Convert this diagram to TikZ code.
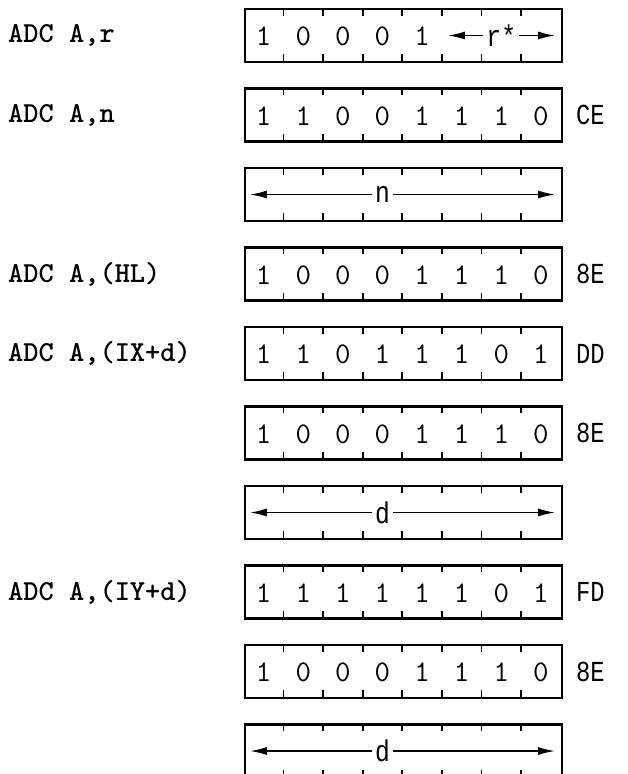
\documentclass[tikz,border=0pt]{standalone}
\usepackage{fontspec}
\usetikzlibrary{arrows.meta,calc}
\newfontfamily\sansfam{Liberation Mono}[FakeStretch=0.82]
\newcommand{\bitfont}{\ttfamily\fontsize{30}{30}\selectfont}
\newcommand{\hexfont}{\sansfam\fontsize{29}{29}\selectfont}
\newcommand{\fldfont}{\sansfam\fontsize{30}{30}\selectfont}
\newcommand{\mnemfont}{\ttfamily\bfseries\fontsize{29}{29}\selectfont}

\begin{document}
\begin{tikzpicture}[x=1pt, y=-1pt,
  byte/.style={draw, line width=2.3pt, minimum width=317pt, minimum height=53pt, inner sep=0pt},
  notch/.style={line width=1.7pt},
  bit/.style={font=\bitfont, inner sep=0pt},
  mnem/.style={font=\mnemfont, anchor=west, inner sep=0pt},
  hex/.style={font=\hexfont, anchor=west, inner sep=0pt},
  fld/.style={-{Latex[length=17pt, width=8pt]}, line width=1.7pt},
  fldlbl/.style={font=\fldfont, inner sep=3pt},
]
  \useasboundingbox (0,0) rectangle (628,774);

  % Byte boxes, notched between the bit cells
  \foreach \i in {1,...,10} {
    \node[byte] (box\i) at (403.5,{35.5+79.5*(\i-1)}) {};
    \foreach \k in {1,...,7} {
      \draw[notch] ($(box\i.north west)+(39.6*\k,0)$) -- ++(0,8);
      \draw[notch] ($(box\i.south west)+(39.6*\k,0)$) -- ++(0,-9);
    }
  }

  % Mnemonics on the left
  \foreach \i/\t in {1/{ADC A,r}, 2/{ADC A,n}, 4/{ADC A,(HL)},
      5/{ADC A,(IX+d)}, 8/{ADC A,(IY+d)}}
    \node[mnem] (op\i) at (8,0 |- box\i) {\t};

  % Hex codes on the right
  \foreach \i/\h in {2/CE, 4/8E, 5/DD, 6/8E, 8/FD, 9/8E}
    \node[hex] (hx\i) at (576,0 |- box\i) {\h};

  % Bit values, one per cell
  \foreach \i/\bits in {1/{1,0,0,0,1}, 2/{1,1,0,0,1,1,1,0},
      4/{1,0,0,0,1,1,1,0}, 5/{1,1,0,1,1,1,0,1}, 6/{1,0,0,0,1,1,1,0},
      8/{1,1,1,1,1,1,0,1}, 9/{1,0,0,0,1,1,1,0}}
    \foreach \b [count=\k] in \bits
      \node[bit] (b\i-\k) at ($(box\i.west)+(39.6*\k-19.8,1)$) {\b};

  % Fields over several cells: row/label/label cell/first cell
  \foreach \i/\t/\c/\s in {1/{r*}/7/5, 3/n/4/0, 7/d/4/0, 10/d/4/0} {
    \node[fldlbl] (fv\i) at ($(box\i.west)+(39.6*\c-19.8,0)$) {\t};
    \coordinate (fa\i) at ($(box\i.west)+(39.6*\s+6,0)$);
    \coordinate (fb\i) at ($(box\i.east)+(-8,0)$);
    \draw[fld] (fv\i) -- (fa\i);
    \draw[fld] (fv\i) -- (fb\i);
  }
\end{tikzpicture}
\end{document}
